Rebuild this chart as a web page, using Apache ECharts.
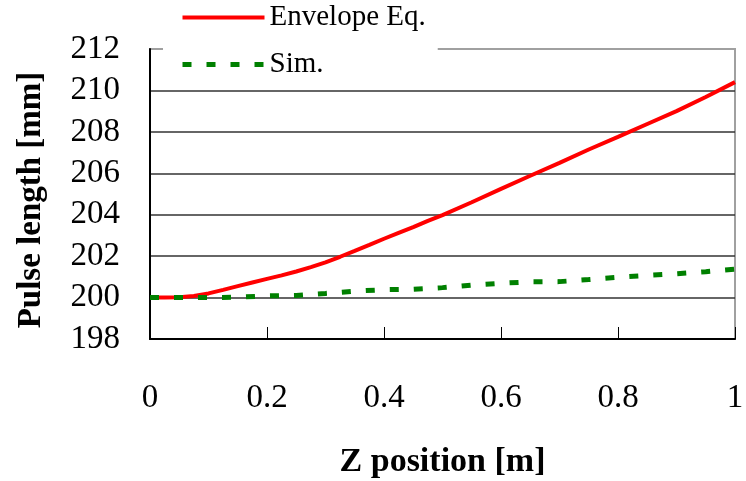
<!DOCTYPE html>
<html>
<head>
<meta charset="utf-8">
<title>Pulse length along Z</title>
<script src="https://cdn.jsdelivr.net/npm/echarts@6/dist/echarts.min.js"></script>
<style>
  html, body { margin: 0; padding: 0; background: #fff; }
  #chart { width: 746px; height: 481px; }
</style>
</head>
<body>
<div id="chart"></div>
<script>
// Z positions [m] at which the envelope curve is sampled
const zPositions = [0, 0.025, 0.05, 0.075, 0.1, 0.125, 0.15, 0.175, 0.2, 0.225, 0.25,
  0.275, 0.3, 0.325, 0.35, 0.375, 0.4, 0.425, 0.45, 0.475, 0.5, 0.55, 0.6, 0.65,
  0.7, 0.75, 0.8, 0.85, 0.9, 0.95, 1.0];

// Pulse length [mm] from the envelope equation
const envelopeEq = [200.0, 200.0, 200.02, 200.08, 200.2, 200.37, 200.55, 200.73, 200.9, 201.07, 201.26,
  201.47, 201.7, 201.97, 202.25, 202.54, 202.84, 203.12, 203.4, 203.7, 203.98, 204.6, 205.25, 205.88,
  206.5, 207.15, 207.76, 208.38, 209.0, 209.68, 210.4];

// Z positions [m] and pulse length [mm] from simulation
const simZ = [0, 0.05, 0.1, 0.15, 0.2, 0.25, 0.3, 0.35, 0.4, 0.45, 0.5,
  0.55, 0.6, 0.65, 0.7, 0.75, 0.8, 0.85, 0.9, 0.95, 1.0];
const simValues = [200.0, 200.0, 200.0, 200.02, 200.08, 200.1, 200.2, 200.31, 200.38, 200.4, 200.48,
  200.6, 200.69, 200.76, 200.77, 200.87, 200.98, 201.07, 201.15, 201.25, 201.37];

// Axis settings
const xRange = { min: 0, max: 1, step: 0.2 };
const yRange = { min: 198, max: 212, step: 2 };
const seriesNames = ['Envelope Eq.', 'Sim.'];

const serif = 'Liberation Serif';

const chart = echarts.init(document.getElementById('chart'), null, { renderer: 'canvas' });

chart.setOption({
  backgroundColor: '#ffffff',
  animation: false,
  grid: {
    left: 150, right: 11, top: 49, bottom: 142,
    outerBoundsMode: 'none',
    containLabel: false,
    show: true,
    borderColor: '#a0a0a0',
    borderWidth: 2,
    backgroundColor: 'transparent'
  },
  legend: {
    left: 163,
    top: 0,
    orient: 'vertical',
    backgroundColor: '#ffffff',
    padding: [3, 12, 2, 17],
    itemWidth: 82,
    itemHeight: 14,
    itemGap: 18,
    z: 10,
    itemStyle: { opacity: 0 },
    lineStyle: { width: 'inherit' },
    textStyle: {
      fontFamily: serif,
      fontSize: 29,
      color: '#000'
    },
    data: seriesNames
  },
  xAxis: {
    type: 'value',
    min: xRange.min,
    max: xRange.max,
    interval: xRange.step,
    name: 'Z position [m]',
    nameLocation: 'middle',
    nameGap: 106,
    nameTextStyle: {
      fontFamily: serif,
      fontSize: 34,
      fontWeight: 'bold',
      color: '#000'
    },
    axisLine: { show: true, lineStyle: { color: '#000', width: 2 } },
    axisTick: { show: true, inside: true, length: 12, lineStyle: { color: '#000', width: 1 } },
    axisLabel: {
      margin: 43,
      fontFamily: serif,
      fontSize: 33,
      color: '#000'
    },
    splitLine: { show: false }
  },
  yAxis: {
    type: 'value',
    min: yRange.min,
    max: yRange.max,
    interval: yRange.step,
    name: 'Pulse length [mm]',
    nameLocation: 'middle',
    nameGap: 102,
    nameRotate: 90,
    nameTextStyle: {
      fontFamily: serif,
      fontSize: 33,
      fontWeight: 'bold',
      color: '#000',
      padding: [0, 12, 0, 0]
    },
    axisLine: { show: true, lineStyle: { color: '#000', width: 2 } },
    axisTick: { show: false },
    axisLabel: {
      margin: 30,
      fontFamily: serif,
      fontSize: 33,
      color: '#000'
    },
    splitLine: {
      show: true,
      showMinLine: false,
      showMaxLine: false,
      lineStyle: { color: '#333', width: 1.5 }
    }
  },
  series: [
    {
      name: seriesNames[0],
      type: 'line',
      data: zPositions.map((z, i) => [z, envelopeEq[i]]),
      showSymbol: false,
      symbol: 'none',
      lineStyle: { color: '#ff0000', width: 4 },
      itemStyle: { color: '#ff0000' },
      z: 3
    },
    {
      name: seriesNames[1],
      type: 'line',
      data: simZ.map((z, i) => [z, simValues[i]]),
      showSymbol: false,
      symbol: 'none',
      lineStyle: { color: '#008000', width: 5, type: [9, 15], cap: 'butt' },
      itemStyle: { color: '#008000' },
      z: 4
    }
  ]
});
</script>
</body>
</html>
